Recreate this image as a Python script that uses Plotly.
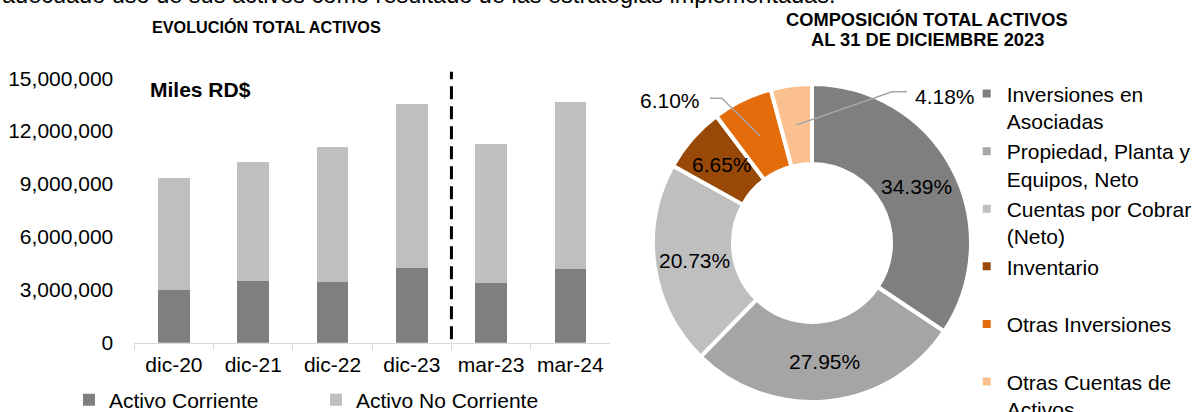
import math
import plotly.graph_objects as go

# ---------------- data ----------------
categories = ["dic-20", "dic-21", "dic-22", "dic-23", "mar-23", "mar-24"]
activo_corriente = [3.00e6, 3.50e6, 3.45e6, 4.26e6, 3.41e6, 4.17e6]
activo_no_corriente = [6.34e6, 6.73e6, 7.65e6, 9.29e6, 7.86e6, 9.47e6]
y_tick_vals = [0, 3e6, 6e6, 9e6, 12e6, 15e6]
y_tick_text = ["0", "3,000,000", "6,000,000", "9,000,000", "12,000,000", "15,000,000"]

pie_labels = ["Inversiones en<br>Asociadas", "Propiedad, Planta y<br>Equipos, Neto",
              "Cuentas por Cobrar<br>(Neto)", "Inventario<br> ", "Otras Inversiones<br> ",
              "Otras Cuentas de<br>Activos"]
pie_values = [34.39, 27.95, 20.73, 6.65, 6.10, 4.18]
pie_colors = ["#7F7F7F", "#A5A5A5", "#BFBFBF", "#984807", "#E46C0A", "#FAC090"]

# ---------------- layout constants ----------------
W, H = 1196, 412
FONT = "Liberation Sans, Arial, sans-serif"
FS = 21


def px(x):
    return x / W


def py(y):
    return 1 - y / H


fig = go.Figure()

fig.add_trace(go.Bar(x=categories, y=activo_corriente, name="Activo Corriente",
                     marker=dict(color="#7F7F7F", line=dict(width=0)), width=0.4))
fig.add_trace(go.Bar(x=categories, y=activo_no_corriente, name="Activo No Corriente",
                     marker=dict(color="#BFBFBF", line=dict(width=0)), width=0.4))

# pie geometry
cx, cy, R = 812, 243, 159
fig.add_trace(go.Pie(labels=pie_labels, values=pie_values, sort=False, direction="clockwise",
                     hole=0.497, textinfo="none",
                     marker=dict(colors=pie_colors, line=dict(color="white", width=4)),
                     domain=dict(x=[px(cx - R), px(cx + R)], y=[py(cy + R), py(cy - R)]),
                     legend="legend2", showlegend=True))

# pie labels from data
total = sum(pie_values)
r_mid = 119
cum = 0
mids = []
for v in pie_values:
    ang = (cum + v / 2) / total * 2 * math.pi
    mids.append((cx + r_mid * math.sin(ang), cy - r_mid * math.cos(ang)))
    cum += v

annotations = []
for i, v in enumerate(pie_values[:4]):
    mx, my = mids[i]
    annotations.append(dict(x=px(mx), y=py(my), xref="paper", yref="paper", text=f"{v:.2f}%",
                            showarrow=False, font=dict(family=FONT, size=FS, color="#000000"),
                            xanchor="center", yanchor="middle"))

# outside labels with leader lines
mx, my = mids[4]
annotations.append(dict(x=px(702), y=py(100), xref="paper", yref="paper", text=f"{pie_values[4]:.2f}%",
                        showarrow=False, font=dict(family=FONT, size=FS, color="#000000"),
                        xanchor="right", yanchor="middle"))
mx2, my2 = mids[5]
annotations.append(dict(x=px(913), y=py(96), xref="paper", yref="paper", text=f"{pie_values[5]:.2f}%",
                        showarrow=False, font=dict(family=FONT, size=FS, color="#000000"),
                        xanchor="left", yanchor="middle"))

shapes = [
    dict(type="path", xref="paper", yref="paper",
         path=f"M{px(710)},{py(98.3)} L{px(722)},{py(98.3)} L{px(mx)},{py(my)}",
         line=dict(color="#A6A6A6", width=1.5)),
    dict(type="path", xref="paper", yref="paper",
         path=f"M{px(mx2)},{py(my2)} L{px(892)},{py(91.7)} L{px(907)},{py(91.7)}",
         line=dict(color="#A6A6A6", width=1.5)),
    dict(type="line", xref="x", x0=3.5, x1=3.5, yref="y domain", y0=0.0125, y1=1,
         line=dict(color="#000000", width=3, dash="13px,7px")),
]

# titles and texts
annotations += [
    dict(x=0, y=1 + 5 / H, xref="paper", yref="paper", xanchor="left", yanchor="middle",
         text="adecuado uso de sus activos como resultado de las estrategias implementadas.",
         showarrow=False, font=dict(family=FONT, size=23.5, color="#000000")),
    dict(x=px(266.5), y=py(26.7), xref="paper", yref="paper", xanchor="center", yanchor="middle",
         text="<b>EVOLUCIÓN TOTAL ACTIVOS</b>", showarrow=False,
         font=dict(family=FONT, size=16.2, color="#000000")),
    dict(x=px(927), y=py(20), xref="paper", yref="paper", xanchor="center", yanchor="middle",
         text="<b>COMPOSICIÓN TOTAL ACTIVOS</b>", showarrow=False,
         font=dict(family=FONT, size=18.3, color="#000000")),
    dict(x=px(927.8), y=py(40), xref="paper", yref="paper", xanchor="center", yanchor="middle",
         text="<b>AL 31 DE DICIEMBRE 2023</b>", showarrow=False,
         font=dict(family=FONT, size=18.3, color="#000000")),
    dict(x=px(148), y=py(89), xref="paper", yref="paper", xanchor="left", yanchor="middle",
         text="<b>Miles RD$</b>", showarrow=False,
         font=dict(family=FONT, size=21, color="#000000")),
]

fig.update_layout(
    width=W, height=H,
    margin=dict(l=0, r=0, t=0, b=0, autoexpand=False),
    paper_bgcolor="white", plot_bgcolor="white",
    barmode="stack",
    font=dict(family=FONT, size=FS, color="#000000"),
    xaxis=dict(domain=[px(134.3), px(610)], type="category", showgrid=False,
               showline=True, linecolor="#D9D9D9", linewidth=1,
               ticks="outside", tickson="boundaries", ticklen=6, tickcolor="#D9D9D9",
               tickfont=dict(family=FONT, size=FS, color="#000000"), ticklabelstandoff=3),
    yaxis=dict(domain=[py(342.7), py(71.7)], range=[0, 15.37e6], showgrid=False, zeroline=False,
               showline=False, tickvals=y_tick_vals, ticktext=y_tick_text, ticks="",
               ticklabelstandoff=20, tickfont=dict(family=FONT, size=FS, color="#000000")),
    legend=dict(orientation="h", x=px(69), y=py(379.7), xanchor="left", yanchor="top",
                entrywidth=202, font=dict(family=FONT, size=FS, color="#000000"),
                bgcolor="rgba(0,0,0,0)", traceorder="normal"),
    legend2=dict(orientation="v", x=px(966.7), y=py(73.4), xanchor="left", yanchor="top",
                 valign="top", font=dict(family=FONT, size=FS, color="#000000"),
                 bgcolor="rgba(0,0,0,0)", maxheight=600),
    annotations=annotations,
    shapes=shapes,
    hovermode=False,
)

fig.write_html("out.html", config={"displayModeBar": False},
               post_script="document.body.style.margin='0px';document.body.style.overflow='hidden';")
